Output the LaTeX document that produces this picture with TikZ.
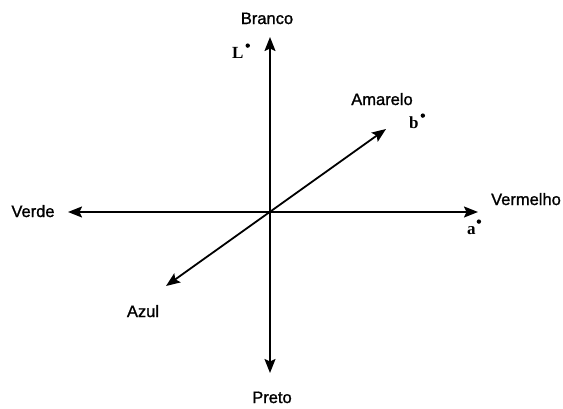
\documentclass[tikz,border=0pt]{standalone}
\usepackage{fontspec}
\setmainfont{Liberation Sans}
\newfontfamily\lblfont{Liberation Sans}[FakeBold=1.2]
\newfontfamily\serifL{Liberation Serif}
\usetikzlibrary{arrows.meta}
\tikzset{
  axis/.style={line width=1.8pt, {Stealth[length=14pt,width=11pt,inset=2.5pt]}-{Stealth[length=14pt,width=11pt,inset=2.5pt]}},
  lbl/.style={anchor=base, inner sep=0pt, font=\lblfont\fontsize{16.5}{19}\selectfont},
  var/.style={anchor=base west, inner sep=0pt, font=\serifL\bfseries\fontsize{17}{19}\selectfont}
}
\newcommand{\stardot}{\raisebox{0.6em}{\tikz\fill (0,0) circle (2.2pt);}}
\begin{document}
\begin{tikzpicture}[x=1pt,y=-1pt]
\useasboundingbox (0,0) rectangle (563,408);
\coordinate (O) at (270,212);
\coordinate (T) at (270,37);
\coordinate (B) at (270,373);
\coordinate (L) at (68,212);
\coordinate (R) at (478,212);
\coordinate (UR) at (386,129);
\coordinate (LL) at (166,286);
\draw[axis] (T) -- (B);
\draw[axis] (L) -- (R);
\draw[axis] (LL) -- (UR);
\node[lbl] (branco) at (267,24) {Branco};
\node[lbl] (preto) at (272,403) {Preto};
\node[lbl] (verde) at (33,217) {Verde};
\node[lbl] (vermelho) at (526,205) {Vermelho};
\node[lbl] (amarelo) at (382,105) {Amarelo};
\node[lbl] (azul) at (143,317) {Azul};
\node[var] (lstar) at (232,58) {L\kern2pt\stardot};
\node[var] (bstar) at (409,128) {b\kern2pt\stardot};
\node[var] (astar) at (467,234) {a\kern1pt\stardot};
\end{tikzpicture}
\end{document}
